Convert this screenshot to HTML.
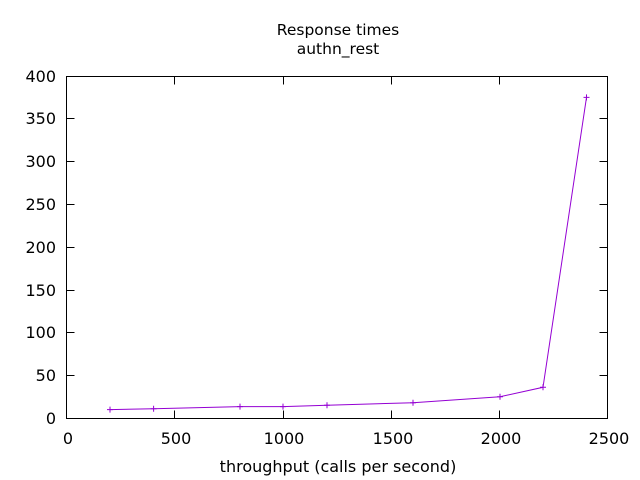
<!DOCTYPE html>
<html><head><meta charset="utf-8"><style>body{margin:0;background:#fff}svg{display:block}</style></head><body>
<svg width="640" height="480" xmlns="http://www.w3.org/2000/svg" font-family="DejaVu Sans, Liberation Sans, sans-serif" font-size="16">
<rect width="640" height="480" fill="#fff"/>
<g stroke="#000" stroke-width="1" fill="none">
<rect x="66.5" y="76.5" width="541" height="342"/>
<path d="M66.5 375.5h8M607.5 375.5h-8M66.5 332.5h8M607.5 332.5h-8M66.5 290.5h8M607.5 290.5h-8M66.5 247.5h8M607.5 247.5h-8M66.5 204.5h8M607.5 204.5h-8M66.5 161.5h8M607.5 161.5h-8M66.5 118.5h8M607.5 118.5h-8"/>
<path d="M174.5 418.5v-8M174.5 76.5v8M283.5 418.5v-8M283.5 76.5v8M391.5 418.5v-8M391.5 76.5v8M499.5 418.5v-8M499.5 76.5v8"/>
</g>
<g text-anchor="end">
<text x="56" y="424">0</text><text x="56" y="381">50</text><text x="56" y="338">100</text><text x="56" y="296">150</text><text x="56" y="253">200</text><text x="56" y="210">250</text><text x="56" y="167">300</text><text x="56" y="124">350</text><text x="56" y="82">400</text>
</g>
<g text-anchor="middle">
<text x="68" y="444">0</text><text x="176" y="444">500</text><text x="284" y="444">1000</text><text x="393" y="444">1500</text><text x="501" y="444">2000</text><text x="609" y="444">2500</text>
<text x="338" y="472">throughput (calls per second)</text>
<text x="338" y="35" font-size="15.5">Response times</text>
<text x="338" y="54" font-size="15.5">authn_rest</text>
</g>
<g stroke="#9400d3" stroke-width="1" fill="none">
<polyline points="110,409.6 153.6,408.7 240,406.6 283,406.6 327,405.3 413,402.7 500,396.7 543,387.3 586.5,97.4"/>
<path d="M107,409.6h6M110,406.6v6M150.6,408.7h6M153.6,405.7v6M237,406.6h6M240,403.6v6M280,406.6h6M283,403.6v6M324,405.3h6M327,402.3v6M410,402.7h6M413,399.7v6M497,396.7h6M500,393.7v6M540,387.3h6M543,384.3v6M583.5,97.4h6M586.5,94.4v6"/>
</g>
</svg>
</body></html>
